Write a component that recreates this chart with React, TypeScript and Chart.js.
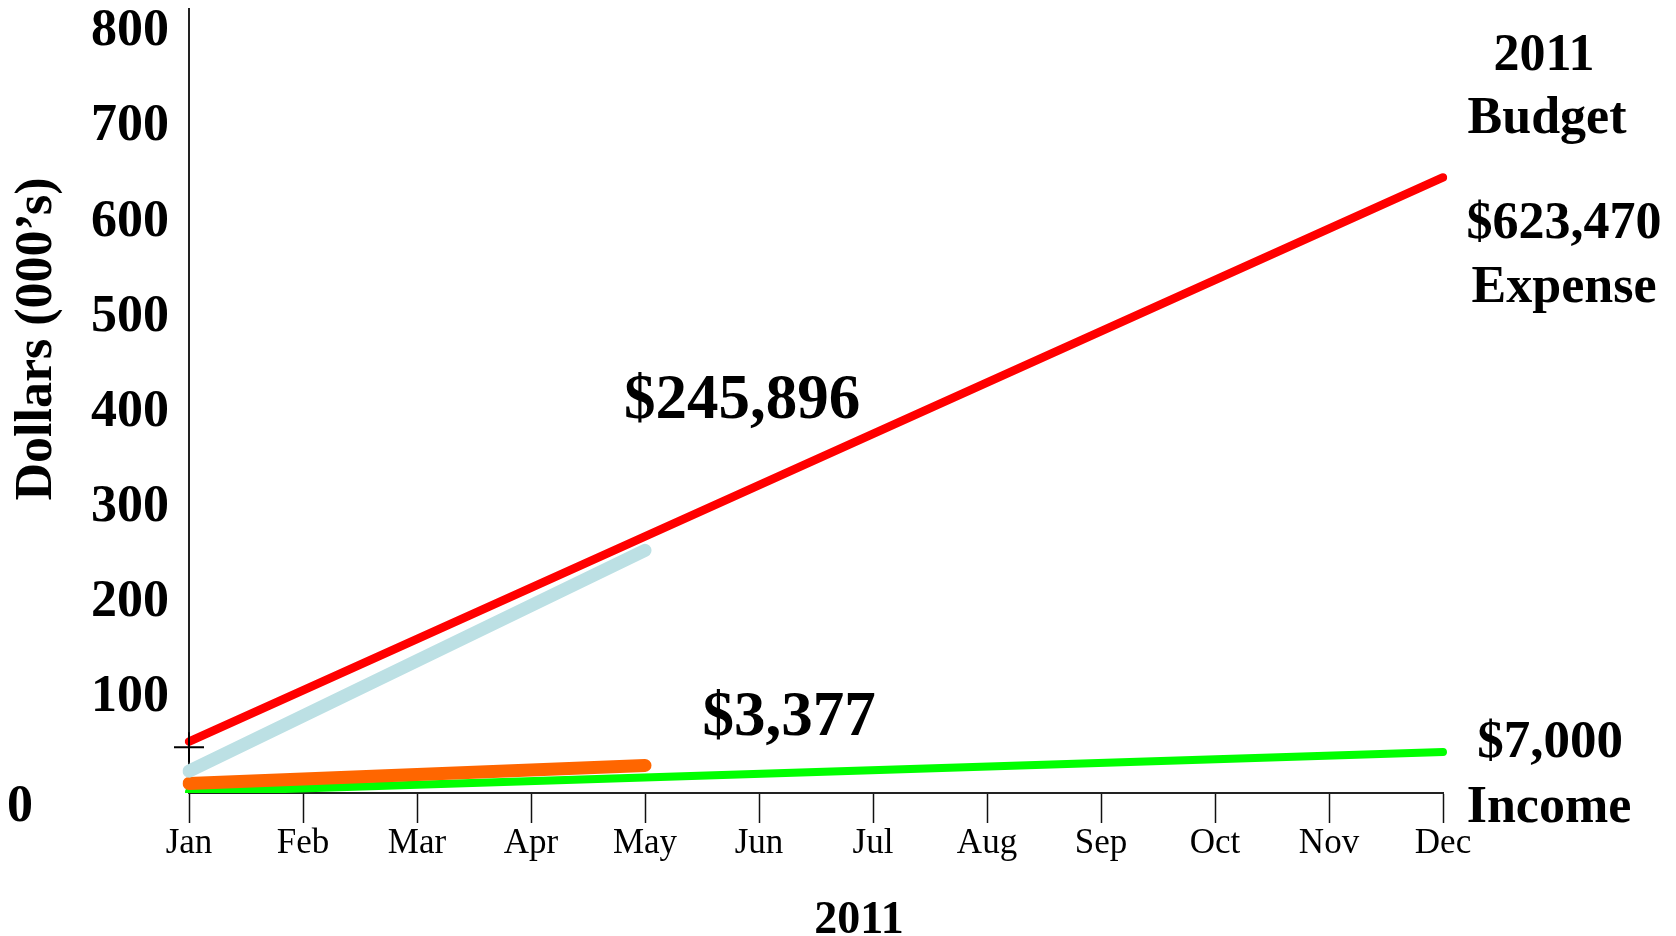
import React, { useEffect, useRef } from 'react';
import { Chart, registerables } from 'chart.js';

Chart.register(...registerables);

const SERIF = "'Liberation Serif', 'Times New Roman', serif";

// ---- data ----
const months = ['Jan', 'Feb', 'Mar', 'Apr', 'May', 'Jun', 'Jul', 'Aug', 'Sep', 'Oct', 'Nov', 'Dec'];
const expenseBudget = [54, null, null, null, null, null, null, null, null, null, null, 647];
const incomeBudget = [1, null, null, null, null, null, null, null, null, null, null, 43];
const expenseActual = [23, null, null, null, 255, null, null, null, null, null, null, null];
const incomeActual = [10, null, null, null, 29, null, null, null, null, null, null, null];
const startMarker = [48, null, null, null, null, null, null, null, null, null, null, null];
const yTickValues = [0, 100, 200, 300, 400, 500, 600, 700, 800];
const yMax = 824;

const yTitle = 'Dollars (000\u2019s)';
const xTitle = '2011';
const budgetTitle = ['2011', 'Budget'];
const expenseBudgetLabel = ['$623,470', 'Expense'];
const incomeBudgetLabel = ['$7,000', 'Income'];
const expenseActualLabel = '$245,896';
const incomeActualLabel = '$3,377';

const textPlugin = {
  id: 'textPlugin',
  afterDraw(chart: any) {
    const ctx = chart.ctx as CanvasRenderingContext2D;
    ctx.save();
    ctx.fillStyle = '#000';
    ctx.textAlign = 'center';
    ctx.textBaseline = 'alphabetic';
    const draw = (t: string, x: number, y: number, size: number) => {
      ctx.font = `bold ${size}px ${SERIF}`;
      ctx.fillText(t, x, y);
    };
    draw(budgetTitle[0], 1544, 70, 52);
    draw(budgetTitle[1], 1547, 133, 52);
    draw(expenseBudgetLabel[0], 1564, 238, 52);
    draw(expenseBudgetLabel[1], 1564, 302, 52);
    draw(expenseActualLabel, 742, 418, 63);
    draw(incomeActualLabel, 789, 735, 63);
    draw(incomeBudgetLabel[0], 1550, 757, 53);
    draw(incomeBudgetLabel[1], 1549, 822, 52);
    draw(xTitle, 859, 933, 46);
    draw('0', 20, 821, 52);
    // y title
    ctx.translate(37.5, 339);
    ctx.rotate(-Math.PI / 2);
    ctx.textBaseline = 'middle';
    ctx.font = `bold 52px ${SERIF}`;
    ctx.fillText(yTitle, 0, 0);
    ctx.restore();
  },
};

export default function App() {
  const ref = useRef<HTMLCanvasElement | null>(null);

  useEffect(() => {
    if (!ref.current) return;
    const line = (data: (number | null)[], color: string, width: number, order: number) => ({
      data,
      borderColor: color,
      backgroundColor: color,
      borderWidth: width,
      borderCapStyle: 'round' as const,
      borderJoinStyle: 'round' as const,
      pointRadius: 0,
      spanGaps: true,
      fill: false,
      tension: 0,
      order,
    });
    const chart = new Chart(ref.current, {
      type: 'line',
      data: {
        labels: months,
        datasets: [
          line(expenseBudget, '#ff0000', 8.5, 1),
          line(expenseActual, '#bce0e4', 13, 2),
          line(incomeActual, '#ff6600', 13, 3),
          line(incomeBudget, '#00ff00', 8, 4),
          {
            data: startMarker,
            showLine: false,
            pointStyle: 'cross',
            pointRadius: 15,
            borderColor: '#000',
            backgroundColor: '#000',
            pointBorderWidth: 2,
            borderWidth: 2,
            order: 0,
          } as any,
        ],
      },
      options: {
        animation: false,
        responsive: true,
        maintainAspectRatio: false,
        layout: { autoPadding: false, padding: { top: 9, right: 233, left: 0, bottom: 0 } },
        plugins: { legend: { display: false }, tooltip: { enabled: false } },
        scales: {
          x: {
            offset: false,
            afterFit: (s: any) => {
              s.height = 143;
              s.paddingLeft = 0;
              s.paddingRight = 0;
            },
            grid: {
              display: true,
              drawOnChartArea: false,
              drawTicks: true,
              tickLength: 30,
              tickColor: '#111',
              tickWidth: 1.5,
            },
            border: { display: true, color: '#222', width: 2 },
            ticks: {
              color: '#000',
              padding: 3.5,
              maxRotation: 0,
              autoSkip: false,
              font: { family: SERIF, size: 35, lineHeight: 1 },
            },
          },
          y: {
            min: 0,
            max: yMax,
            afterFit: (s: any) => {
              s.width = 189;
              s.paddingTop = 0;
              s.paddingBottom = 0;
            },
            afterBuildTicks: (s: any) => {
              s.ticks = yTickValues.map((v) => ({ value: v }));
            },
            grid: { display: false, drawTicks: false },
            border: { display: true, color: '#222', width: 2 },
            ticks: {
              color: '#000',
              padding: 20,
              font: { family: SERIF, size: 52, weight: 'bold' },
              callback: (v: any) => (Number(v) === 0 ? '' : String(v)),
            },
          },
        },
      },
      plugins: [textPlugin],
    });
    return () => chart.destroy();
  }, []);

  return (
    <div style={{ position: 'fixed', left: 0, top: 0, width: 1676, height: 936, background: '#fff' }}>
      <canvas ref={ref} />
    </div>
  );
}
